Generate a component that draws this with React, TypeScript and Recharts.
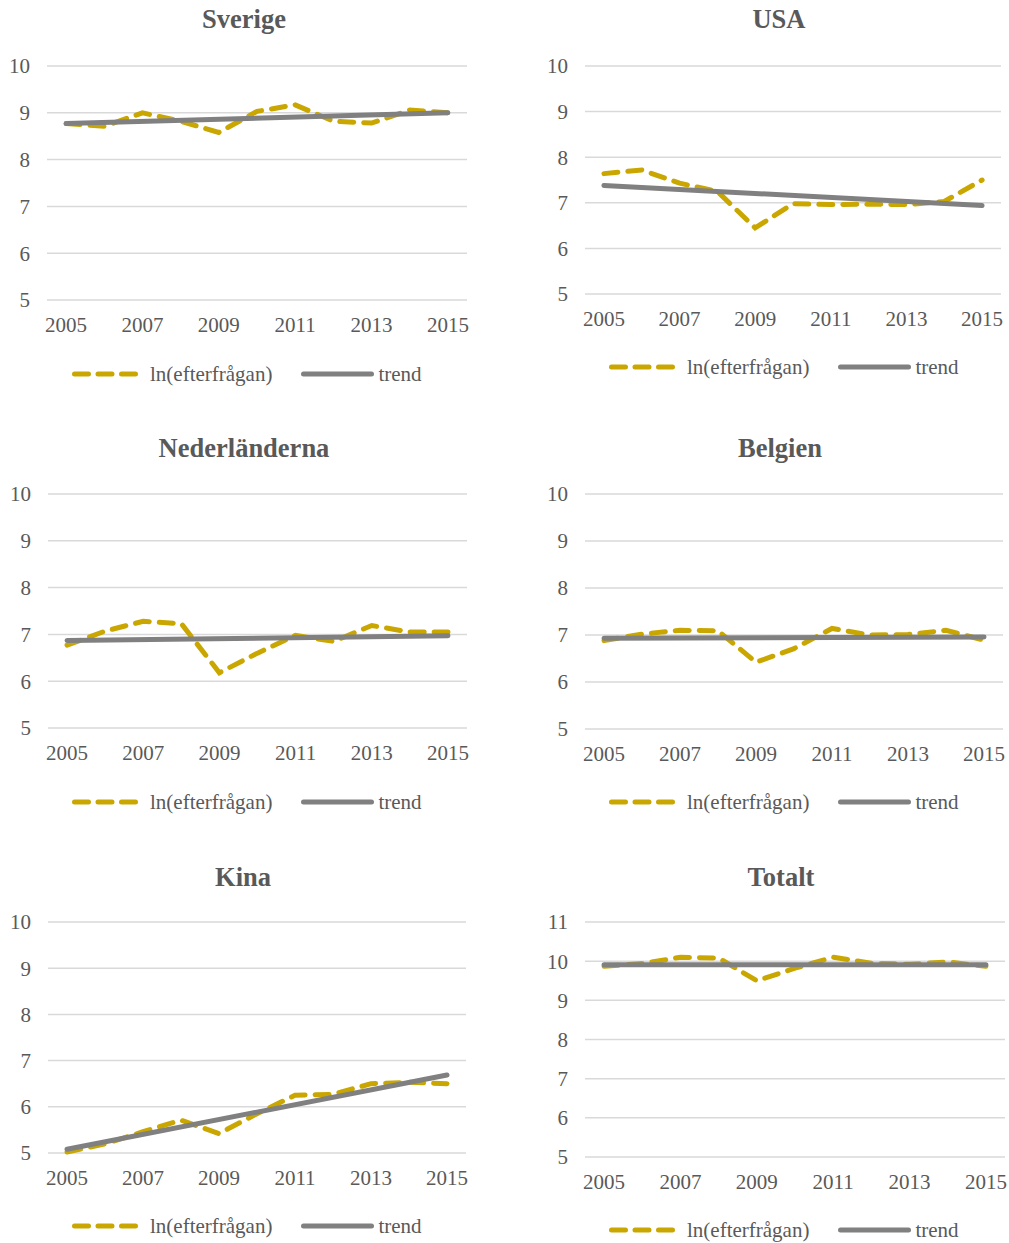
import { LineChart, Line, XAxis, YAxis, CartesianGrid } from "recharts";

const years = ["2005", "2006", "2007", "2008", "2009", "2010", "2011", "2012", "2013", "2014", "2015"];

// ln(efterfrågan) per land, trend anges bara med start- och slutvärde
const sverigeLn = [8.77, 8.71, 9.0, 8.82, 8.58, 9.03, 9.17, 8.82, 8.78, 9.06, 9.0];
const sverigeTrend = [8.77, 9.0];
const usaLn = [7.64, 7.72, 7.43, 7.25, 6.45, 6.98, 6.96, 6.97, 6.96, 7.03, 7.5];
const usaTrend = [7.38, 6.94];
const nederlandernaLn = [6.77, 7.07, 7.28, 7.23, 6.18, 6.6, 6.98, 6.85, 7.19, 7.05, 7.05];
const nederlandernaTrend = [6.87, 6.97];
const belgienLn = [6.88, 7.02, 7.1, 7.09, 6.42, 6.71, 7.14, 7.0, 7.01, 7.1, 6.89];
const belgienTrend = [6.93, 6.96];
const kinaLn = [5.02, 5.2, 5.46, 5.71, 5.42, 5.85, 6.25, 6.27, 6.5, 6.53, 6.5];
const kinaTrend = [5.08, 6.69];
const totaltLn = [9.87, 9.94, 10.1, 10.08, 9.5, 9.82, 10.1, 9.95, 9.92, 9.98, 9.87];
const totaltTrend = [9.91, 9.91];

const ticks10 = [5, 6, 7, 8, 9, 10];
const ticks11 = [5, 6, 7, 8, 9, 10, 11];

const GOLD = "#c9a700";
const GREY = "#808080";
const TEXT = "#595959";
const FONT = '"Liberation Serif", "Times New Roman", serif';

const buildRows = (ln: number[], trend: number[]) =>
  years.map((y, i) => ({
    year: y,
    ln: ln[i],
    trend: i === 0 ? trend[0] : i === years.length - 1 ? trend[1] : null,
  }));

const panels = [
  { title: "Sverige", ln: sverigeLn, trend: sverigeTrend, ticks: ticks10, gl: 47, gr: 467, top: 66, bottom: 300, tx: 244, ty: 4, ly: 374, lx: 72 },
  { title: "USA", ln: usaLn, trend: usaTrend, ticks: ticks10, gl: 585, gr: 1001, top: 66, bottom: 294, tx: 779, ty: 4, ly: 367, lx: 609 },
  { title: "Nederländerna", ln: nederlandernaLn, trend: nederlandernaTrend, ticks: ticks10, gl: 48, gr: 467, top: 494, bottom: 728, tx: 244, ty: 433, ly: 802, lx: 72 },
  { title: "Belgien", ln: belgienLn, trend: belgienTrend, ticks: ticks10, gl: 585, gr: 1003, top: 494, bottom: 729, tx: 780, ty: 433, ly: 802, lx: 609 },
  { title: "Kina", ln: kinaLn, trend: kinaTrend, ticks: ticks10, gl: 48, gr: 466, top: 922, bottom: 1153, tx: 243, ty: 862, ly: 1226, lx: 72 },
  { title: "Totalt", ln: totaltLn, trend: totaltTrend, ticks: ticks11, gl: 585, gr: 1005, top: 922, bottom: 1157, tx: 781, ty: 862, ly: 1230, lx: 609 },
];

const LegendRow = ({ x, y }: { x: number; y: number }) => (
  <div
    style={{
      position: "absolute",
      left: x,
      top: y - 12,
      display: "flex",
      alignItems: "center",
      fontFamily: FONT,
      fontSize: 21,
      color: TEXT,
      whiteSpace: "nowrap",
      lineHeight: "24px",
    }}
  >
    <svg width={66} height={10}>
      <line x1={2.5} y1={5} x2={64} y2={5} stroke={GOLD} strokeWidth={5} strokeDasharray="14 9.5" strokeLinecap="round" />
    </svg>
    <span style={{ marginLeft: 12 }}>ln(efterfrågan)</span>
    <svg width={73} height={10} style={{ marginLeft: 29 }}>
      <line x1={2.5} y1={5} x2={70.5} y2={5} stroke={GREY} strokeWidth={5} strokeLinecap="round" />
    </svg>
    <span style={{ marginLeft: 4 }}>trend</span>
  </div>
);

const Panel = ({ p }: { p: (typeof panels)[number] }) => {
  const rows = buildRows(p.ln, p.trend);
  const plotW = p.gr - p.gl;
  const band = plotW / years.length;
  const w = plotW + 70;
  const h = p.bottom - p.top + 70;
  return (
    <>
      <div
        style={{
          position: "absolute",
          left: p.tx - 150,
          width: 300,
          top: p.ty,
          textAlign: "center",
          fontFamily: FONT,
          fontWeight: "bold",
          fontSize: 26.5,
          color: TEXT,
          lineHeight: "30px",
        }}
      >
        {p.title}
      </div>
      <div style={{ position: "absolute", left: p.gl - 60, top: p.top - 20 }}>
        <LineChart width={w} height={h} data={rows} margin={{ top: 20, right: 10, bottom: 20, left: 0 }}>
          <CartesianGrid vertical={false} stroke="#d9d9d9" strokeWidth={1.5} />
          <XAxis
            dataKey="year"
            interval={1}
            padding={{ left: band / 2, right: band / 2 }}
            axisLine={false}
            tickLine={false}
            tickSize={0}
            tickMargin={17}
            height={30}
            tick={{ fill: TEXT, fontSize: 21, fontFamily: FONT }}
          />
          <YAxis
            width={60}
            domain={[p.ticks[0], p.ticks[p.ticks.length - 1]]}
            ticks={p.ticks}
            axisLine={false}
            tickLine={false}
            tickSize={0}
            tickMargin={17}
            tick={{ fill: TEXT, fontSize: 21, fontFamily: FONT }}
          />
          <Line
            dataKey="ln"
            stroke={GOLD}
            strokeWidth={5}
            strokeDasharray="14 10"
            strokeLinecap="round"
            dot={false}
            isAnimationActive={false}
          />
          <Line
            dataKey="trend"
            stroke={GREY}
            strokeWidth={5}
            strokeLinecap="round"
            dot={false}
            connectNulls
            isAnimationActive={false}
          />
        </LineChart>
      </div>
      <LegendRow x={p.lx} y={p.ly} />
    </>
  );
};

export default function App() {
  return (
    <div style={{ position: "absolute", left: 0, top: 0, width: 1009, height: 1243, background: "#fff" }}>
      {panels.map((p) => (
        <Panel key={p.title} p={p} />
      ))}
    </div>
  );
}
